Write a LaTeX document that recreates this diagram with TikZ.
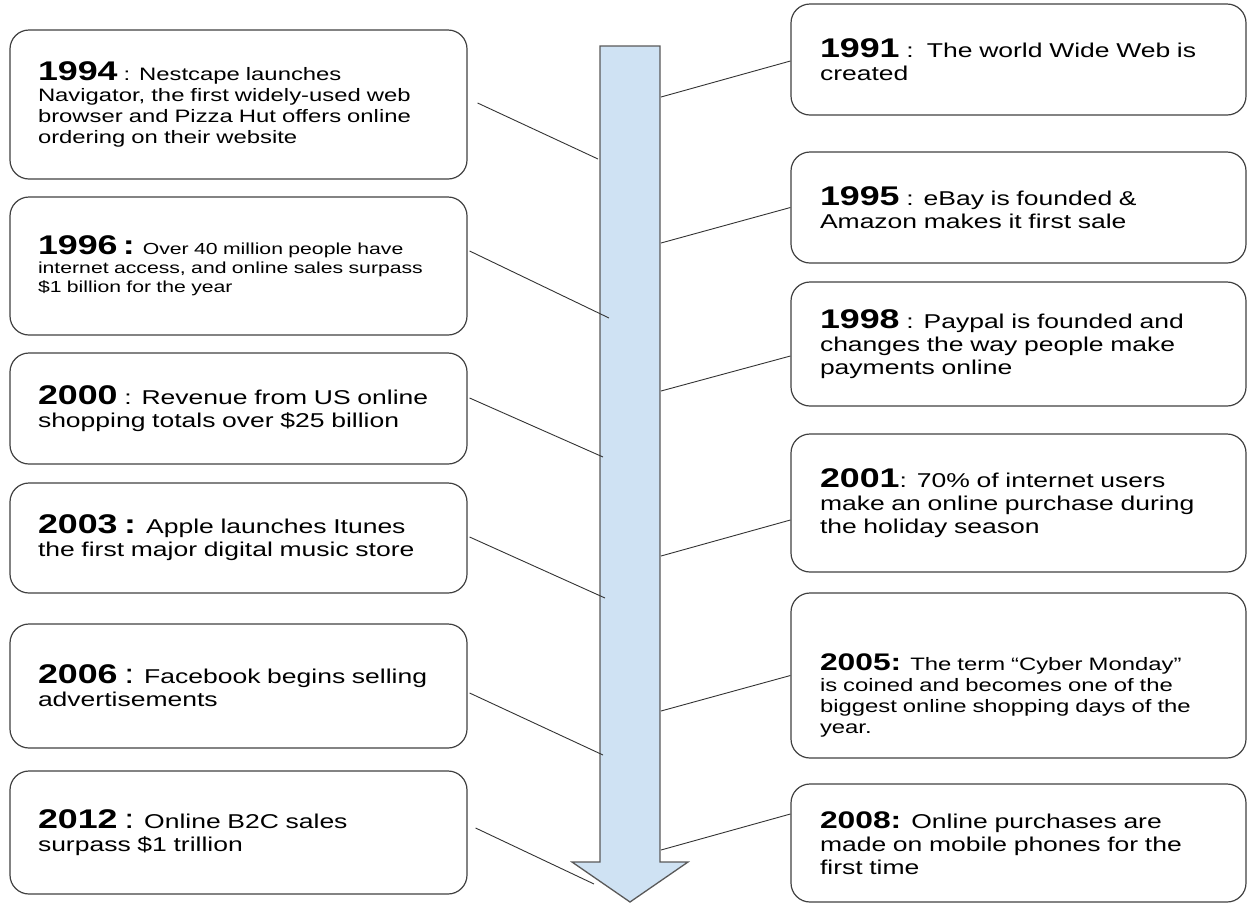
\documentclass[tikz,border=0pt]{standalone}
\usepackage{fontspec}
\setmainfont[FakeStretch=1.325]{Liberation Sans}
\usetikzlibrary{calc}
\definecolor{shaftblue}{HTML}{CFE2F3}
\definecolor{edgegray}{HTML}{595959}
\def\yr#1{{\fontsize{27}{27}\selectfont\bfseries #1}}
\def\yrs#1{{\fontsize{24}{24}\selectfont\bfseries #1}}
\def\bigcolon{{\fontsize{27}{27}\selectfont :}}
\tikzset{
	event/.style={draw=black!75, line width=1.2pt, rounded corners=19pt, align=left, inner ysep=0pt, font=\fontsize{20}{23}\selectfont},
	leftevent/.style={event, text width=401pt, inner xsep=28pt},
	rightevent/.style={event, text width=397pt, inner xsep=29pt},
	link/.style={draw=black!80, line width=0.9pt}
}

\begin{document}
\begin{tikzpicture}[x=1pt, y=-1pt]
		%%%%% START %%%%%
		\useasboundingbox (0,0) rectangle (1248,903);
		
		% timeline arrow
		\draw[draw=edgegray, line width=1.3pt, fill=shaftblue] (600,46) -- (660,46) -- (660,862) -- (688,862) -- (630,902) -- (572,862) -- (600,862) -- cycle;
		
		\coordinate (a94) at (598,159);
		\coordinate (a96) at (609,318);
		\coordinate (a00) at (603,457);
		\coordinate (a03) at (605,598);
		\coordinate (a06) at (603,755);
		\coordinate (a12) at (594,884);
		\coordinate (a91) at (661,97);
		\coordinate (a95) at (661,243);
		\coordinate (a98) at (661,391);
		\coordinate (a01) at (661,556);
		\coordinate (a05) at (661,711);
		\coordinate (a08) at (661,850);
		
		% left column
		\node[leftevent, minimum height=149pt, font=\fontsize{18}{21}\selectfont] (y94) at (238.5,104.5) {\yr{1994} : Nestcape launches\\Navigator, the first widely-used web\\browser and Pizza Hut offers online\\ordering on their website};
		\node[leftevent, minimum height=138pt, font=\fontsize{16}{19}\selectfont] (y96) at (238.5,266) {\yr{1996 :} Over 40 million people have\\internet access, and online sales surpass\\\$1 billion for the year};
		\node[leftevent, minimum height=111pt] (y00) at (238.5,408.5) {\yr{2000} : Revenue from US online\\shopping totals over \$25 billion};
		\node[leftevent, minimum height=110pt] (y03) at (238.5,538) {\yr{2003 :} Apple launches Itunes\\the first major digital music store};
		\node[leftevent, minimum height=124pt] (y06) at (238.5,686) {\yr{2006} \bigcolon{} Facebook begins selling\\advertisements};
		\node[leftevent, minimum height=123pt] (y12) at (238.5,832.5) {\yr{2012} \bigcolon{} Online B2C sales\\surpass \$1 trillion};
		
		% right column
		\node[rightevent, minimum height=111pt] (y91) at (1018.5,59.5) {\yr{1991} :\ \ The world Wide Web is\\created};
		\node[rightevent, minimum height=111pt] (y95) at (1018.5,207.5) {\yr{1995} : eBay is founded \&\\Amazon makes it first sale};
		\node[rightevent, minimum height=124pt] (y98) at (1018.5,344) {\yr{1998} : Paypal is founded and\\changes the way people make\\payments online};
		\node[rightevent, minimum height=138pt] (y01) at (1018.5,503) {\yr{2001}: 70\% of internet users\\make an online purchase during\\the holiday season};
		\node[rightevent, minimum height=165pt, font=\fontsize{18}{21}\selectfont] (y05) at (1018.5,675.5) {\rule{0pt}{57pt}\yrs{2005:} The term “Cyber Monday”\\is coined and becomes one of the\\biggest online shopping days of the\\year.};
		\node[rightevent, minimum height=118pt] (y08) at (1018.5,843) {\yrs{2008:} Online purchases are\\made on mobile phones for the\\first time};
		
		% connectors
		\draw[link] ([xshift=10pt,yshift=1.5pt]y94.east) -- (a94);
		\draw[link] ([xshift=2pt,yshift=15pt]y96.east) -- (a96);
		\draw[link] ([xshift=2pt,yshift=10.5pt]y00.east) -- (a00);
		\draw[link] ([xshift=2pt,yshift=1pt]y03.east) -- (a03);
		\draw[link] ([xshift=2pt,yshift=-7pt]y06.east) -- (a06);
		\draw[link] ([xshift=8pt,yshift=4.5pt]y12.east) -- (a12);
		
		\draw[link] ([yshift=-1.5pt]y91.west) -- (a91);
		\draw[link] (y95.west) -- (a95);
		\draw[link] ([yshift=-12pt]y98.west) -- (a98);
		\draw[link] ([yshift=-17pt]y01.west) -- (a01);
		\draw[link] (y05.west) -- (a05);
		\draw[link] ([yshift=29pt]y08.west) -- (a08);
		
		%%%%% END %%%%%
\end{tikzpicture}
\end{document}
